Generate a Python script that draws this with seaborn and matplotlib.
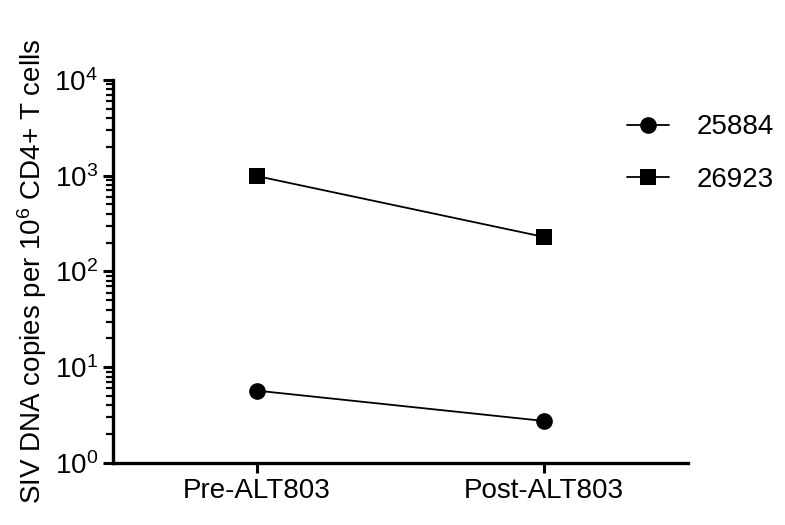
import pandas as pd
import seaborn as sns
from matplotlib import pyplot as plt
from matplotlib.ticker import LogLocator, NullFormatter

stages = ["Pre-ALT803", "Post-ALT803"]
animal_25884 = [5.7, 2.75]
animal_26923 = [990, 229]

df = pd.DataFrame({
    "stage": stages * 2,
    "copies": animal_25884 + animal_26923,
    "animal": ["25884"] * 2 + ["26923"] * 2,
})

sns.set_style("ticks", {"text.color": "black", "axes.labelcolor": "black",
                        "xtick.color": "black", "ytick.color": "black",
                        "axes.edgecolor": "black"})
plt.rcParams["font.family"] = ["Liberation Sans", "DejaVu Sans"]
plt.rcParams["mathtext.fontset"] = "custom"
plt.rcParams["mathtext.rm"] = "Liberation Sans"
plt.rcParams["mathtext.it"] = "Liberation Sans"

fig = plt.figure(figsize=(7.85, 5.25), dpi=100)
ax = fig.add_axes([0.144, 0.118, 0.732, 0.730])

sns.lineplot(data=df, x="stage", y="copies", hue="animal", style="animal",
             markers={"25884": "o", "26923": "s"}, dashes=False,
             palette=["black", "black"], markersize=12, linewidth=1.3,
             markeredgewidth=0, ax=ax)

ax.set_yscale("log")
ax.set_ylim(1, 1e4)
ax.set_xlim(-0.5, 1.5)
ax.set_yticks([1, 10, 100, 1000, 10000])
ax.set_yticklabels(["10$^{0}$", "10$^{1}$", "10$^{2}$", "10$^{3}$", "10$^{4}$"])
ax.yaxis.set_minor_locator(LogLocator(base=10, subs=range(2, 10), numticks=20))
ax.yaxis.set_minor_formatter(NullFormatter())

ax.set_xlabel("")
ax.set_ylabel("SIV DNA copies per 10$^{6}$ CD4+ T cells", fontsize=20, labelpad=4)
ax.tick_params(axis="both", which="major", labelsize=20, width=2.2, length=7,
               color="black", labelcolor="black", direction="out", pad=4)
ax.tick_params(axis="y", which="minor", width=1.6, length=5, color="black")
ax.tick_params(axis="x", which="minor", bottom=False)

for side in ["left", "bottom"]:
    ax.spines[side].set_linewidth(2.4)
    ax.spines[side].set_color("black")
sns.despine(ax=ax)

ax.legend(loc="upper left", bbox_to_anchor=(0.767, 0.83),
          bbox_transform=fig.transFigure, frameon=False, fontsize=20,
          handlelength=1.5, handletextpad=1.0, labelspacing=0.97)

fig.savefig("out.png", dpi=100)
